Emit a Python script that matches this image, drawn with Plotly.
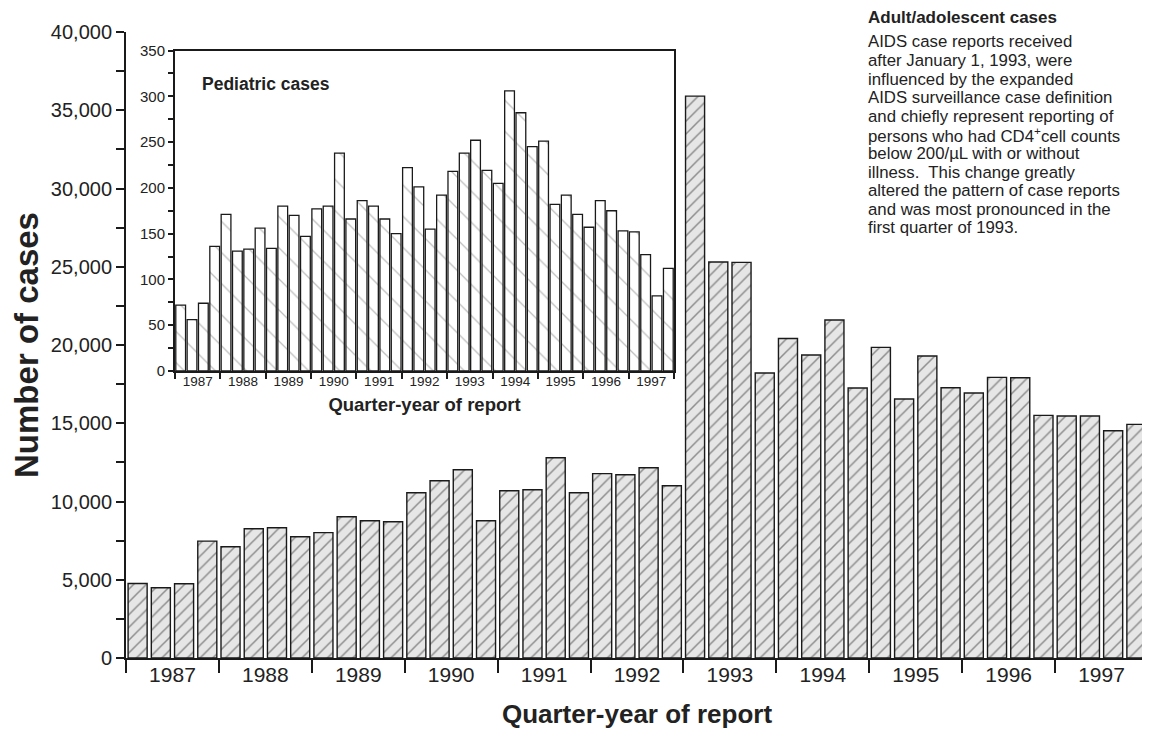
import plotly.graph_objects as go

# ---------------- data ----------------
years = ["1987", "1988", "1989", "1990", "1991", "1992",
         "1993", "1994", "1995", "1996", "1997"]
quarters = [f"{y} Q{q}" for y in years for q in range(1, 5)]

adult_cases = [4760, 4490, 4740, 7470,
               7110, 8260, 8320, 7750,
               8010, 9030, 8770, 8710,
               10560, 11330, 12030, 8770,
               10690, 10750, 12800, 10560,
               11780, 11710, 12160, 11010,
               35900, 25300, 25280, 18210,
               20420, 19360, 21600, 17250,
               19850, 16550, 19300, 17270,
               16930, 17930, 17910, 15500,
               15460, 15460, 14520, 14930]

pediatric_cases = [72, 56, 74, 136,
                   171, 131, 133, 156,
                   134, 180, 170, 147,
                   177, 180, 238, 166,
                   186, 180, 166, 150,
                   222, 201, 155, 192,
                   218, 238, 252, 219,
                   205, 306, 282, 245,
                   251, 182, 192, 171,
                   157, 186, 175, 153,
                   152, 127, 82, 112]

main_y_ticks = [0, 5000, 10000, 15000, 20000, 25000, 30000, 35000, 40000]
inset_y_ticks = [0, 50, 100, 150, 200, 250, 300, 350]

note_title = "Adult/adolescent cases"
note_lines = [
    "AIDS case reports received",
    "after January 1, 1993, were",
    "influenced by the expanded",
    "AIDS surveillance case definition",
    "and chiefly represent reporting of",
    "persons who had CD4<sup>+</sup>cell counts",
    "below 200/µL with or without",
    "illness.  This change greatly",
    "altered the pattern of case reports",
    "and was most pronounced in the",
    "first quarter of 1993.",
]

# ---------------- derived positions ----------------
xpos = list(range(len(quarters)))
year_centers = [4 * i + 1.5 for i in range(len(years))]
year_bounds = [4 * i - 0.5 for i in range(len(years) + 1)]

FONT = "Arial, Liberation Sans, Helvetica, sans-serif"
INK = "#1a1a1a"

# the page places the figure 8 px in from the window corner
OFF = 8
W, H = 1150 - OFF, 732 - OFF
PLOT_L, PLOT_R, PLOT_T, PLOT_B = 126, 1148, 32, 658   # window pixels
ML, MR = PLOT_L - OFF, W - (PLOT_R - OFF)
MT, MB = PLOT_T - OFF, H - (PLOT_B - OFF)
PW, PH = W - ML - MR, H - MT - MB


def px_x(p):
    return (p - OFF - ML) / PW


def px_y(p):
    return (H - MB - (p - OFF)) / PH


fig = go.Figure()

fig.add_trace(go.Bar(
    x=xpos, y=adult_cases, width=0.82,
    marker=dict(color="#e6e6e6",
                line=dict(color=INK, width=1.4),
                pattern=dict(shape="/", fgcolor="#333333", bgcolor="#e6e6e6",
                             size=9, solidity=0.17)),
    xaxis="x", yaxis="y", showlegend=False, hoverinfo="skip"))

fig.add_trace(go.Bar(
    x=xpos, y=pediatric_cases, width=0.86,
    marker=dict(color="white",
                line=dict(color=INK, width=1.3),
                pattern=dict(shape="\\", fgcolor="#808080", bgcolor="white",
                             size=22, solidity=0.06)),
    xaxis="x2", yaxis="y2", showlegend=False, hoverinfo="skip"))

fig.update_layout(
    width=W, height=H,
    margin=dict(l=ML, r=MR, t=MT, b=MB, autoexpand=False),
    paper_bgcolor="white", plot_bgcolor="white",
    font=dict(family=FONT, color=INK),
    xaxis=dict(
        domain=[0, 1], range=[-0.5, 43.5], anchor="y", automargin=False,
        showline=True, linewidth=2, linecolor=INK,
        showgrid=False, zeroline=False,
        tickmode="array", tickvals=year_centers, ticktext=years,
        ticks="", tickfont=dict(size=21, color="#222"),
        ticklabelstandoff=-3,
        minor=dict(tickmode="array", tickvals=year_bounds, ticks="outside",
                   ticklen=13, tickwidth=2, tickcolor=INK, showgrid=False),
        title=dict(text="Quarter-year of report", standoff=20,
                   font=dict(size=26, weight="bold", color="#222")),
    ),
    yaxis=dict(
        domain=[0, 1], range=[0, 40000], anchor="x", automargin=False,
        showline=True, linewidth=2, linecolor=INK,
        showgrid=False, zeroline=False,
        tickmode="array", tickvals=main_y_ticks, tickformat=",d",
        ticks="outside", ticklen=8, tickwidth=2, tickcolor=INK,
        tickfont=dict(size=20, color="#222"),
        minor=dict(dtick=2500, ticks="outside", ticklen=8, tickwidth=2,
                   tickcolor=INK, showgrid=False),
        title=dict(text="Number of cases", standoff=10,
                   font=dict(size=33, weight="bold", color="#222")),
    ),
    xaxis2=dict(
        domain=[px_x(175), px_x(674)], range=[-0.5, 43.5], anchor="y2",
        automargin=False,
        showline=True, linewidth=2, linecolor=INK, mirror=True,
        showgrid=False, zeroline=False,
        tickmode="array", tickvals=year_centers, ticktext=years,
        ticks="", tickfont=dict(size=13.5, color="#222"),
        ticklabelstandoff=-3,
        minor=dict(tickmode="array", tickvals=year_bounds, ticks="outside",
                   ticklen=6, tickwidth=1.5, tickcolor=INK, showgrid=False),
        title=dict(text="Quarter-year of report", standoff=10,
                   font=dict(size=18.5, weight="bold", color="#222")),
    ),
    yaxis2=dict(
        domain=[px_y(371), px_y(50.5)], range=[0, 350], anchor="x2",
        automargin=False,
        showline=True, linewidth=2, linecolor=INK, mirror=True,
        showgrid=False, zeroline=False,
        tickmode="array", tickvals=inset_y_ticks,
        ticks="outside", ticklen=5, tickwidth=1.5, tickcolor=INK,
        tickfont=dict(size=15, color="#222"),
        minor=dict(dtick=25, ticks="outside", ticklen=5, tickwidth=1.5,
                   tickcolor=INK, showgrid=False),
    ),
)

annotations = [
    dict(text=note_title, x=px_x(866), y=px_y(17), xref="paper", yref="paper",
         xanchor="left", yanchor="middle", showarrow=False,
         font=dict(size=17, weight="bold", color="#222")),
    dict(text="Pediatric cases", x=px_x(200), y=px_y(84), xref="paper", yref="paper",
         xanchor="left", yanchor="middle", showarrow=False,
         font=dict(size=17.5, weight="bold", color="#222")),
]
for i, line in enumerate(note_lines):
    annotations.append(dict(
        text=line, x=px_x(866), y=px_y(42 + 18.6 * i), xref="paper", yref="paper",
        xanchor="left", yanchor="middle", showarrow=False,
        font=dict(size=16.8, color="#222")))
fig.update_layout(annotations=annotations)

fig.write_html("out.html")
